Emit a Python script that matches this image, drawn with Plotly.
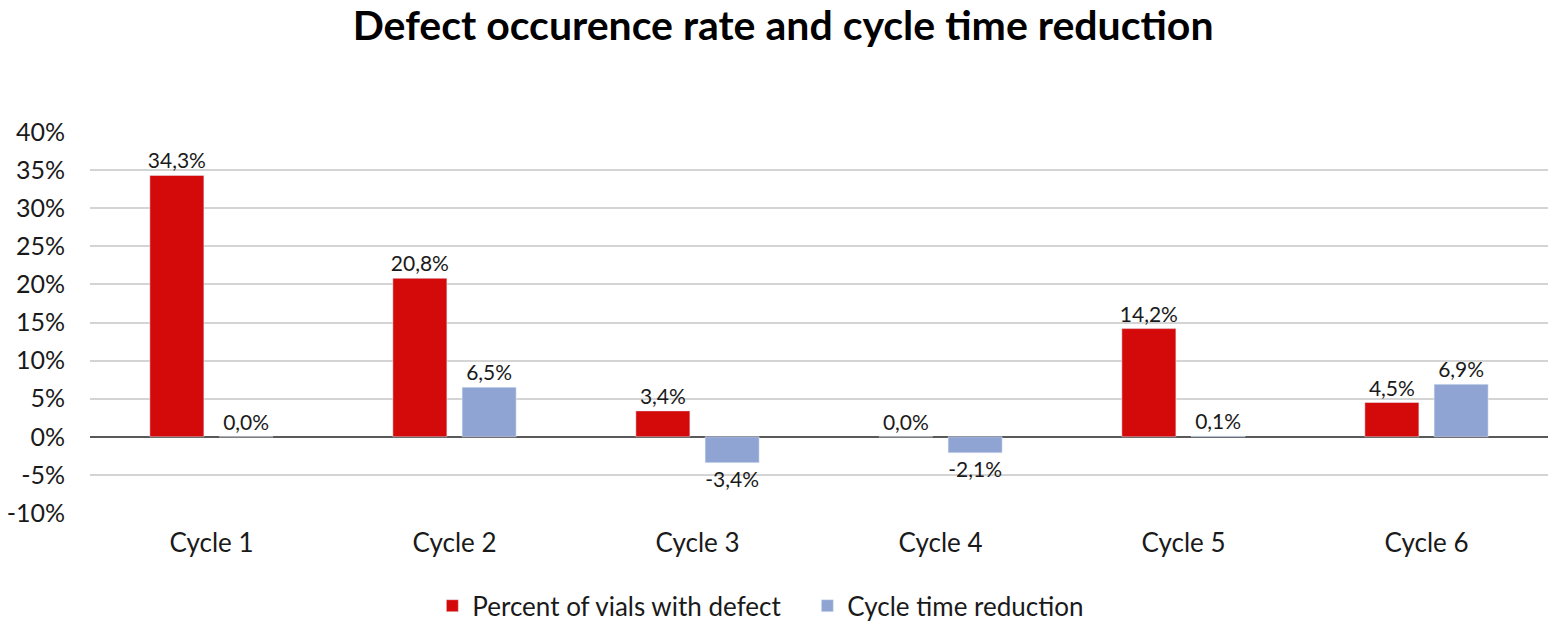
import plotly.graph_objects as go

categories = ["Cycle 1", "Cycle 2", "Cycle 3", "Cycle 4", "Cycle 5", "Cycle 6"]
defect_rate = [34.3, 20.8, 3.4, 0.0, 14.2, 4.5]
cycle_time_reduction = [0.0, 6.5, -3.4, -2.1, 0.1, 6.9]
tick_vals = [-10, -5, 0, 5, 10, 15, 20, 25, 30, 35, 40]
tick_text = [f"{v}%" for v in tick_vals]

RED = "#d40a0a"
BLUE = "#8fa4d2"
FONT = "Lato"
TXT = "#1a1a1a"

fig = go.Figure()
fig.add_trace(go.Bar(
    x=categories, y=defect_rate, name="Percent of vials with defect",
    marker=dict(color=RED), texttemplate="%{y:.1f}%", textposition="outside",
    textfont=dict(size=21, color=TXT, family=FONT), cliponaxis=False,
    constraintext="none",
))
fig.add_trace(go.Bar(
    x=categories, y=cycle_time_reduction, name="Cycle time reduction",
    marker=dict(color=BLUE), texttemplate="%{y:.1f}%", textposition="outside",
    textfont=dict(size=21, color=TXT, family=FONT), cliponaxis=False,
    constraintext="none",
))

fig.update_layout(
    width=1560, height=635,
    separators=",.",
    paper_bgcolor="white", plot_bgcolor="white",
    margin=dict(l=90, r=12, t=132, b=122),
    barmode="group", bargap=0.43, bargroupgap=0.22,
    title=dict(text="<b>Defect occurence rate and cycle time reduction</b>",
               x=0.502, xanchor="center", y=0.96, yanchor="middle",
               font=dict(size=41, color="#000000", family=FONT)),
    font=dict(family=FONT, color=TXT),
    yaxis=dict(range=[-10, 40], tickvals=tick_vals, ticktext=tick_text,
               showgrid=True, gridcolor="#d4d4d4", gridwidth=2,
               zeroline=True, zerolinecolor="#595959", zerolinewidth=2,
               tickfont=dict(size=25, color=TXT), ticks="", showline=False,
               automargin=False, ticklabelstandoff=24),
    xaxis=dict(tickfont=dict(size=26, color=TXT), showgrid=False, showline=False, ticks="",
               automargin=False, ticklabelstandoff=12),
    legend=dict(orientation="h", x=0.492, xanchor="center",
                yref="container", y=0.046, yanchor="middle",
                font=dict(size=26, color=TXT), traceorder="normal", itemwidth=30,
                entrywidth=330),
    showlegend=True,
)

fig.write_html("out.html", config={"displayModeBar": False},
               post_script="document.body.style.margin='0';")
